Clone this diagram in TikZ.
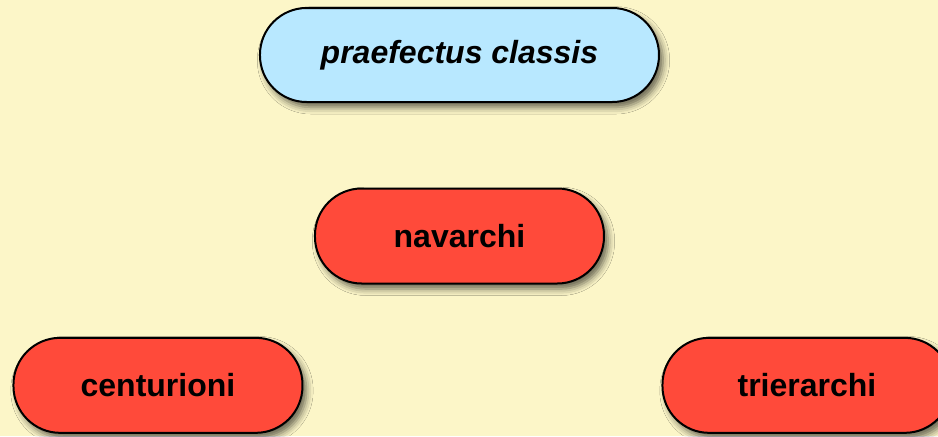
\documentclass[tikz,border=0pt]{standalone}
\usepackage{fontspec}
\setmainfont{Liberation Sans}
\usetikzlibrary{shadows.blur}

\definecolor{paper}{RGB}{252,246,200}
\definecolor{rankred}{RGB}{255,74,58}
\definecolor{chiefblue}{RGB}{184,232,255}

\begin{document}
\begin{tikzpicture}[
    rank/.style={draw=black, line width=1.5pt, fill=rankred,
      rounded corners=35pt, inner sep=0pt,
      minimum width=216.75pt, minimum height=71.25pt,
      font=\fontsize{24}{28}\selectfont\bfseries,
      blur shadow={shadow xshift=3pt, shadow yshift=-4pt,
        shadow blur radius=5pt, shadow opacity=60}},
    chief/.style={rank, fill=chiefblue, minimum width=299.25pt,
      minimum height=70.5pt,
      font=\fontsize{24}{28}\selectfont\bfseries\itshape},
    edge from parent/.style={draw=none},
    level 1/.style={level distance=135.75pt},
    level 2/.style={level distance=112pt, sibling distance=486.75pt}
  ]
  \fill[paper] (0,0) rectangle (703.5pt,-327pt);
  \useasboundingbox (0,0) rectangle (703.5pt,-327pt);

  \node[chief] (prefect) at (344.6pt,-41.25pt) {praefectus classis}
    child { node[rank] (navarchi) {navarchi}
      child { node[rank, xshift=17.25pt] (centurioni) {centurioni} }
      child { node[rank, xshift=17.25pt] (trierarchi) {trierarchi} }
    };
\end{tikzpicture}
\end{document}
